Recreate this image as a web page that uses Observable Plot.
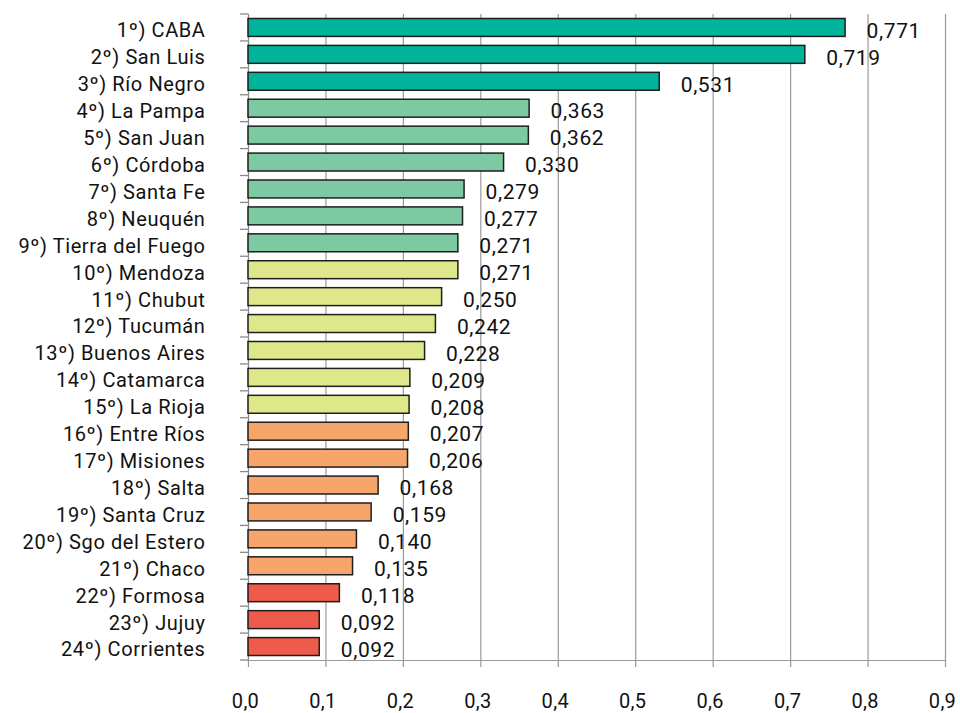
<!DOCTYPE html>
<html>
<head>
<meta charset="utf-8">
<script src="https://cdn.jsdelivr.net/npm/d3@7"></script>
<script src="https://cdn.jsdelivr.net/npm/@observablehq/plot@0.6"></script>
<style>
  html, body { margin: 0; padding: 0; background: #fff; }
  #chart svg { display: block; }
  #chart g[aria-label="y-axis tick label"] text { letter-spacing: 0.6px; }
  #chart g[aria-label="x-axis tick label"] text { letter-spacing: 0.3px; }
  #chart g[aria-label="text"] text { letter-spacing: 0.6px; }
</style>
</head>
<body>
<div id="chart"></div>
<script>
const provinces = ["CABA","San Luis","Río Negro","La Pampa","San Juan","Córdoba","Santa Fe","Neuquén","Tierra del Fuego","Mendoza","Chubut","Tucumán","Buenos Aires","Catamarca","La Rioja","Entre Ríos","Misiones","Salta","Santa Cruz","Sgo del Estero","Chaco","Formosa","Jujuy","Corrientes"];
const values = [0.771,0.719,0.531,0.363,0.362,0.330,0.279,0.277,0.271,0.271,0.250,0.242,0.228,0.209,0.208,0.207,0.206,0.168,0.159,0.140,0.135,0.118,0.092,0.092];
const groups = ["A","A","A","B","B","B","B","B","B","C","C","C","C","C","C","D","D","D","D","D","D","E","E","E"];
const groupNames = ["A","B","C","D","E"];
const groupColors = ["#00b49c","#7dcaa2","#dee78a","#f8a56b","#ef5b4b"];
const xTicks = [0,0.1,0.2,0.3,0.4,0.5,0.6,0.7,0.8,0.9];

const data = provinces.map((p, i) => ({
  label: `${i + 1}º) ${p}`,
  value: values[i],
  group: groups[i]
}));
const labels = data.map(d => d.label);

const W = 960, H = 713, mt = 14, mb = 53, ml = 248, mr = 15;
const comma = v => v.toFixed(1).replace(".", ",");
const comma3 = v => v.toFixed(3).replace(".", ",");

const chart = Plot.plot({
  width: W,
  height: H,
  marginTop: mt,
  marginBottom: mb,
  marginLeft: ml,
  marginRight: mr,
  style: { fontFamily: "Roboto, 'DejaVu Sans', sans-serif", fontSize: "20px", color: "#111", background: "#fff" },
  x: { domain: [0, 0.9], axis: null, round: false },
  y: { domain: labels, padding: 0, axis: null, round: false },
  color: { domain: groupNames, range: groupColors },
  marks: [
    Plot.gridX(xTicks.slice(1), { stroke: "#9a9a9a", strokeOpacity: 1, strokeWidth: 1.2 }),
    Plot.frame({ anchor: "bottom", stroke: "#9a9a9a", strokeWidth: 1.2 }),
    Plot.frame({ anchor: "left", stroke: "#8a8a8a", strokeWidth: 1.3 }),
    Plot.barX(data, { y: "label", x: "value", fill: "group", stroke: "#1e1e1e", strokeWidth: 1.5, insetTop: 4.5, insetBottom: 4.5 }),
    Plot.text(data, { y: "label", x: "value", text: d => comma3(d.value), dx: 21, dy: 3, textAnchor: "start", fontSize: 21, fill: "#111" }),
    Plot.axisX({ ticks: xTicks, tickFormat: () => "", tickSize: 7, stroke: "#9a9a9a", strokeWidth: 1.2, label: null }),
    Plot.axisX({ ticks: xTicks, tickFormat: comma, tickSize: 0, tickPadding: 33, dx: -3, fontSize: 20, label: null }),
    Plot.axisY({ tickSize: 0, tickPadding: 43, dy: 3, fontSize: 20, label: null })
  ]
});

// Left-axis tick marks at the band boundaries
const yScale = chart.scale("y");
const bandStep = yScale.step;
const y0 = yScale.range[0];
const g = d3.select(chart).append("g").attr("stroke", "#8a8a8a").attr("stroke-width", 1.3);
for (let i = 0; i <= labels.length; i++) {
  const y = y0 + i * bandStep;
  g.append("line").attr("x1", ml - 8).attr("x2", ml).attr("y1", y).attr("y2", y);
}
document.getElementById("chart").append(chart);
</script>
</body>
</html>
